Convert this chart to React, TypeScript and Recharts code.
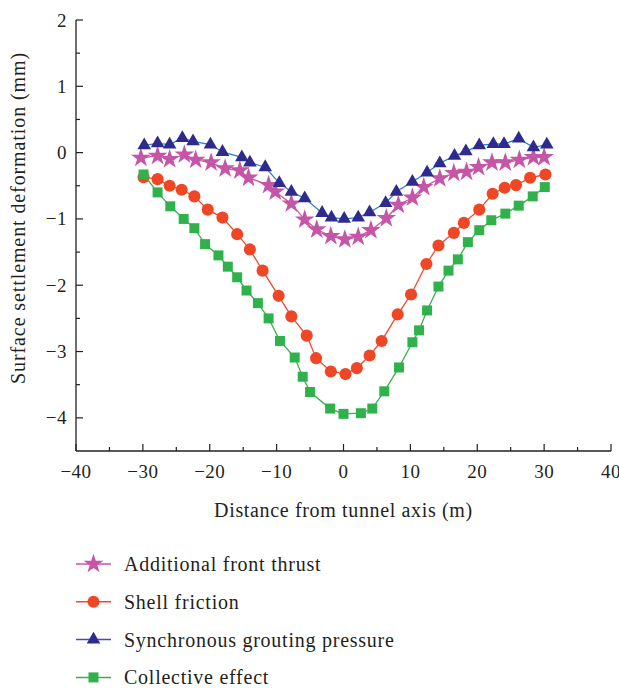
import React from "react";
import { LineChart, Line, XAxis, YAxis, Legend, Symbols } from "recharts";

// ---- Data ----
const thrustX = [-30.3, -27.8, -26.0, -23.8, -22.1, -19.8, -17.7, -15.5, -14.2, -11.2, -10.2, -7.8, -5.8, -4.0, -1.9, 0.2, 2.2, 4.1, 6.4, 8.2, 10.3, 12.0, 14.4, 16.5, 18.4, 20.2, 22.2, 24.2, 26.3, 28.4, 30.0];
const thrustY = [-0.08, -0.05, -0.10, -0.03, -0.11, -0.15, -0.24, -0.27, -0.38, -0.49, -0.59, -0.77, -1.01, -1.16, -1.26, -1.31, -1.27, -1.17, -0.99, -0.79, -0.68, -0.52, -0.39, -0.31, -0.29, -0.22, -0.15, -0.15, -0.11, -0.07, -0.07];

const frictionX = [-29.9, -27.8, -26.0, -24.2, -22.3, -20.3, -18.1, -15.9, -14.0, -12.1, -9.7, -7.8, -5.5, -4.1, -1.9, 0.3, 2.0, 3.9, 5.7, 8.1, 10.1, 12.4, 14.2, 16.5, 18.0, 20.3, 22.3, 24.1, 25.8, 27.9, 30.2];
const frictionY = [-0.37, -0.40, -0.50, -0.56, -0.66, -0.86, -0.98, -1.23, -1.46, -1.78, -2.16, -2.47, -2.76, -3.10, -3.30, -3.34, -3.25, -3.06, -2.84, -2.44, -2.14, -1.68, -1.40, -1.21, -1.06, -0.86, -0.62, -0.53, -0.49, -0.38, -0.33];

const groutX = [-29.8, -27.8, -26.0, -24.1, -22.5, -19.9, -18.1, -15.2, -14.0, -11.7, -9.6, -7.8, -5.8, -3.2, -1.8, 0.1, 2.2, 3.9, 6.3, 7.9, 10.3, 12.5, 14.4, 16.6, 18.3, 20.3, 22.4, 24.0, 26.2, 28.4, 30.4];
const groutY = [0.11, 0.14, 0.12, 0.22, 0.17, 0.12, 0.01, -0.07, -0.15, -0.22, -0.46, -0.59, -0.69, -0.91, -0.98, -1.00, -0.98, -0.90, -0.76, -0.59, -0.44, -0.30, -0.16, -0.05, 0.02, 0.11, 0.13, 0.13, 0.21, 0.08, 0.12];

const collectiveX = [-29.9, -27.8, -25.9, -23.9, -22.3, -20.7, -18.7, -17.3, -15.9, -14.5, -12.8, -11.2, -9.5, -7.3, -6.1, -5.0, -2.0, 0.0, 2.6, 4.3, 6.1, 8.3, 10.3, 11.3, 12.5, 14.2, 15.7, 17.1, 18.6, 20.3, 22.1, 24.2, 26.2, 28.3, 30.1];
const collectiveY = [-0.33, -0.60, -0.81, -1.00, -1.14, -1.38, -1.55, -1.72, -1.88, -2.08, -2.27, -2.50, -2.84, -3.09, -3.38, -3.61, -3.86, -3.94, -3.93, -3.86, -3.60, -3.24, -2.86, -2.68, -2.38, -2.02, -1.78, -1.61, -1.35, -1.17, -1.02, -0.92, -0.80, -0.66, -0.52];

const seriesNames = ["Additional front thrust", "Shell friction", "Synchronous grouting pressure", "Collective effect"];

const xTicks = [-40, -35, -30, -25, -20, -15, -10, -5, 0, 5, 10, 15, 20, 25, 30, 35, 40];
const yTicks = [-4, -3.5, -3, -2.5, -2, -1.5, -1, -0.5, 0, 0.5, 1, 1.5, 2];

const toData = (xs: number[], ys: number[]) => xs.map((x, i) => ({ x, y: ys[i] }));
const thrustData = toData(thrustX, thrustY);
const frictionData = toData(frictionX, frictionY);
const groutData = toData(groutX, groutY);
const collectiveData = toData(collectiveX, collectiveY);

const FONT = "'Liberation Serif', 'DejaVu Serif', serif";
const INK = "#231f20";

const C = {
  thrust: "#c555a7",
  thrustLine: "#c656a8",
  friction: "#ef4626",
  frictionLine: "#ef4a2a",
  grout: "#2f2a8e",
  groutLine: "#2d7fc6",
  collective: "#2fb24b",
  collectiveLine: "#3caf4c",
};

const fmt = (v: number) => (v < 0 ? `\u2212${Math.abs(v)}` : `${v}`);

const XTick = (props: any) => {
  const { x, y, payload } = props;
  const v = payload.value as number;
  const major = v % 10 === 0;
  return (
    <g>
      <line x1={x} y1={y} x2={x} y2={y - (major ? 7 : 4)} stroke={INK} strokeWidth={1.2} />
      {major && (
        <text x={x} y={y + 20} textAnchor="middle" dominantBaseline="central" fontFamily={FONT} fontSize={19} letterSpacing={0.5} fill={INK}>
          {fmt(v)}
        </text>
      )}
    </g>
  );
};

const YTick = (props: any) => {
  const { x, y, payload } = props;
  const v = payload.value as number;
  const major = Number.isInteger(v);
  return (
    <g>
      <line x1={x} y1={y} x2={x + (major ? 7 : 4)} y2={y} stroke={INK} strokeWidth={1.2} />
      {major && (
        <text x={x - 9} y={y} textAnchor="end" dominantBaseline="central" fontFamily={FONT} fontSize={19} letterSpacing={0.5} fill={INK}>
          {fmt(v)}
        </text>
      )}
    </g>
  );
};

const makeDot = (type: any, size: number, fill: string) => (p: any) => {
  if (p.cx == null || p.cy == null) return <g key={p.index} />;
  return <Symbols key={p.index} cx={p.cx} cy={p.cy} type={type} size={size} fill={fill} stroke="none" />;
};

const legendItems = [
  { name: seriesNames[0], type: "star", size: 120, fill: C.thrust, line: C.thrustLine },
  { name: seriesNames[1], type: "circle", size: 115, fill: C.friction, line: C.frictionLine },
  { name: seriesNames[2], type: "triangle", size: 80, fill: C.grout, line: "#4b48b4" },
  { name: seriesNames[3], type: "square", size: 100, fill: C.collective, line: C.collectiveLine },
];

const LegendContent = () => (
  <svg width={420} height={150} style={{ overflow: "visible" }}>
    {legendItems.map((it, i) => {
      const cy = 19 + i * 37.8;
      return (
        <g key={it.name}>
          <line x1={76} y1={cy} x2={111} y2={cy} stroke={it.line} strokeWidth={1.5} />
          <Symbols cx={93.5} cy={cy} type={it.type as any} size={it.size} fill={it.fill} />
          <text x={124} y={cy} dominantBaseline="central" fontFamily={FONT} fontSize={20} letterSpacing={0.75} fill={INK}>
            {it.name}
          </text>
        </g>
      );
    })}
  </svg>
);

export default function App() {
  return (
    <div style={{ position: "absolute", left: 0, top: 0, width: 619, height: 688, background: "#fff" }}>
      <LineChart width={619} height={688} margin={{ top: 20, right: 8, left: 0, bottom: 0 }}>
        <XAxis
          type="number"
          dataKey="x"
          domain={[-40, 40]}
          ticks={xTicks}
          interval={0}
          allowDataOverflow
          height={237}
          tickSize={0}
          tickMargin={0}
          tickLine={false}
          tick={<XTick />}
          axisLine={{ stroke: INK, strokeWidth: 1.3 }}
          label={{
            content: (p: any) => {
              const vb = p.viewBox;
              return (
                <text x={vb.x + vb.width / 2} y={vb.y + 59} textAnchor="middle" dominantBaseline="central" fontFamily={FONT} fontSize={20} letterSpacing={0.65} fill={INK}>
                  Distance from tunnel axis (m)
                </text>
              );
            },
          }}
        />
        <YAxis
          type="number"
          domain={[-4.5, 2]}
          ticks={yTicks}
          interval={0}
          allowDataOverflow
          width={76}
          tickSize={0}
          tickMargin={0}
          tickLine={false}
          tick={<YTick />}
          axisLine={{ stroke: INK, strokeWidth: 1.3 }}
          label={{
            content: (p: any) => {
              const vb = p.viewBox;
              const cx = 18;
              const cy = vb.y + 198;
              return (
                <text x={cx} y={cy} transform={`rotate(-90, ${cx}, ${cy})`} textAnchor="middle" dominantBaseline="central" fontFamily={FONT} fontSize={20} letterSpacing={0.9} fill={INK}>
                  Surface settlement deformation (mm)
                </text>
              );
            },
          }}
        />
        <Line data={thrustData} dataKey="y" name={seriesNames[0]} stroke={C.thrustLine} strokeWidth={1.3} dot={makeDot("star", 120, C.thrust)} isAnimationActive={false} />
        <Line data={frictionData} dataKey="y" name={seriesNames[1]} stroke={C.frictionLine} strokeWidth={1.3} dot={makeDot("circle", 115, C.friction)} isAnimationActive={false} />
        <Line data={groutData} dataKey="y" name={seriesNames[2]} stroke={C.groutLine} strokeWidth={1.3} dot={makeDot("triangle", 80, C.grout)} isAnimationActive={false} />
        <Line data={collectiveData} dataKey="y" name={seriesNames[3]} stroke={C.collectiveLine} strokeWidth={1.3} dot={makeDot("square", 100, C.collective)} isAnimationActive={false} />
        <Legend
          layout="vertical"
          align="center"
          verticalAlign="middle"
          content={<LegendContent />}
          wrapperStyle={{ left: 0, top: 545, width: 420, height: 150 }}
        />
      </LineChart>
    </div>
  );
}
